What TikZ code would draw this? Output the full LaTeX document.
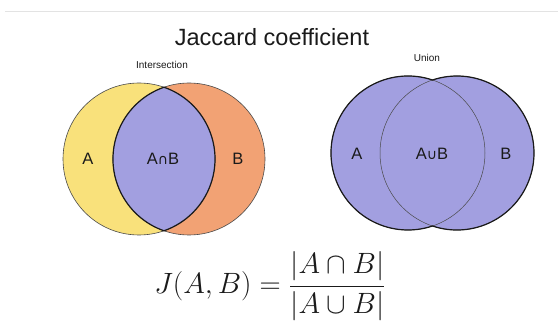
\documentclass[tikz,border=0pt]{standalone}
\usepackage{graphicx}
\usepackage[no-math]{fontspec}
\setmainfont{Liberation Sans}
\newfontfamily\symfont{DejaVu Sans}
\usepackage{tikz}
\usetikzlibrary{calc}
\definecolor{Ink}      {HTML}{1A1A1A}
\definecolor{RuleGrey} {HTML}{E3E3E3}
\definecolor{EdgeGrey} {HTML}{4A4A4A}
\definecolor{SetYellow}{HTML}{F9E17B}
\definecolor{SetOrange}{HTML}{F2A274}
\definecolor{SetPurple}{HTML}{A29FE0}
\newcommand{\capsym}{{\symfont\fontsize{14}{14}\selectfont ∩}}
\newcommand{\cupsym}{{\symfont\fontsize{14}{14}\selectfont ∪}}

\begin{document}
\begin{tikzpicture}[x=1pt, y=1pt, text=Ink]
  \useasboundingbox (0,0) rectangle (558,322);

  % ===== HEADER =====
  \draw[line width=0.8pt, RuleGrey] (5,311) -- (558,311);
  \node[anchor=base, font=\fontsize{23.5}{26}\selectfont] (title) at (272,276)
        {Jaccard coefficient};

  % ===== INTERSECTION (left) =====
  \coordinate (lA) at (139,163);
  \coordinate (lB) at (189,163);
  \fill[SetYellow] (lA) circle (76);
  \fill[SetOrange] (lB) circle (76);
  \draw[line width=0.6pt, EdgeGrey] (lA) circle (76);
  \draw[line width=0.6pt, EdgeGrey] (lB) circle (76);
  % lens A cap B
  \fill[SetPurple, draw=Ink, line width=1.2pt]
        ($(lA)+(70.8:76)$) arc (70.8:-70.8:76) arc (250.8:109.2:76) -- cycle;
  \node[anchor=base, font=\fontsize{10}{12}\selectfont] (intlab) at (162,253.5)
        {Intersection};
  \node[font=\fontsize{16.5}{18}\selectfont] (lAlab) at (88,163) {A};
  \node[font=\fontsize{16.5}{18}\selectfont] (lABlab) at (163,163) {A\capsym B};
  \node[font=\fontsize{16.5}{18}\selectfont] (lBlab) at (238,163) {B};

  % ===== UNION (right) =====
  \coordinate (uA) at (408,169);
  \coordinate (uB) at (457,169);
  \fill[SetPurple] (uA) circle (77);
  \fill[SetPurple] (uB) circle (77);
  \draw[line width=0.5pt, EdgeGrey] (uA) circle (77);
  \draw[line width=0.5pt, EdgeGrey] (uB) circle (77);
  % outer rim
  \draw[line width=1.2pt, Ink]
        ($(uA)+(71.45:77)$) arc (71.45:288.55:77) arc (-108.55:108.55:77) -- cycle;
  \node[anchor=base, font=\fontsize{10}{12}\selectfont] (unilab) at (427,260)
        {Union};
  \node[font=\fontsize{16.5}{18}\selectfont] (uAlab) at (357,168) {A};
  \node[font=\fontsize{16.5}{18}\selectfont] (uABlab) at (432,168) {A\cupsym B};
  \node[font=\fontsize{16.5}{18}\selectfont] (uBlab) at (506,168) {B};

  % ===== FORMULA =====
  \node[font=\fontsize{24.88}{30}\selectfont] (jac) at (270,36)
        {\scalebox{1.18}{$\displaystyle J(A,B)=\frac{|A\cap B|}{|A\cup B|}$}};

\end{tikzpicture}
\end{document}
